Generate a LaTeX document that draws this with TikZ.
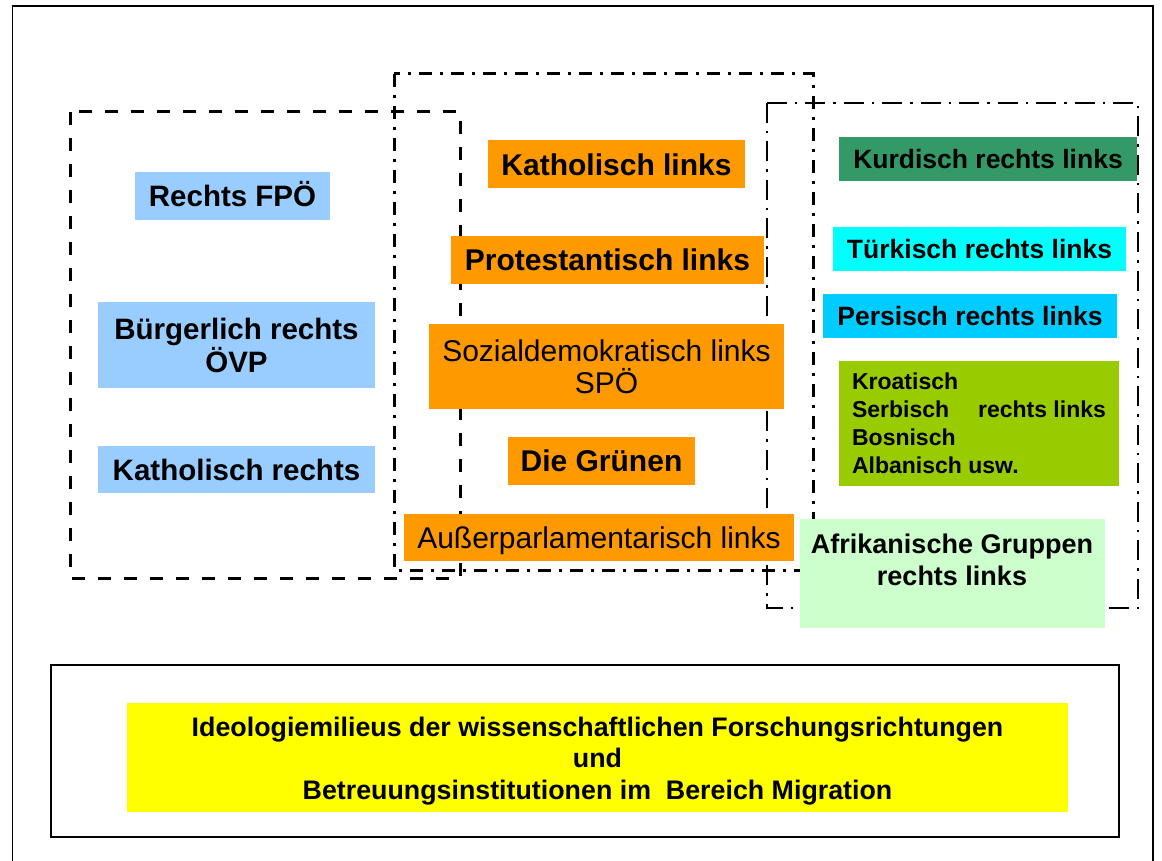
\documentclass[tikz,border=0pt]{standalone}
\usepackage{fontspec}
\setmainfont{Liberation Sans}
\newcommand{\fsz}[2]{\fontsize{#1}{#2}\selectfont}
\definecolor{lblue}{HTML}{99CCFF}
\definecolor{orng}{HTML}{FF9900}
\definecolor{dgreen}{HTML}{339966}
\definecolor{cyanbox}{HTML}{00FFFF}
\definecolor{skybox}{HTML}{00CCFF}
\definecolor{ygreen}{HTML}{99CC00}
\definecolor{lgreen}{HTML}{CCFFCC}
\definecolor{yelbox}{HTML}{FFFF00}
\begin{document}
\begin{tikzpicture}[x=1pt,y=-1pt,
  box/.style={rectangle, inner sep=0pt, text=black, align=center},
  capline/.style={text height=#1, text depth=0pt},
  frameline/.style={draw=black, line width=1.2pt},
  dashbox/.style={draw=black, line width=3pt, dash pattern=on 13pt off 13pt},
  dotbox/.style={draw=black, line width=3pt, dash pattern=on 13pt off 8pt on 3pt off 8pt},
  dotboxthin/.style={draw=black, line width=2.2pt, dash pattern=on 20pt off 8pt on 2.5pt off 8pt}
]
\useasboundingbox (0,0) rectangle (1162,861);
\fill[white] (0,0) rectangle (1162,861);

% outer frame
\draw[frameline] (12.5,861) -- (12.5,6) -- (1153,6) -- (1153,861);

% group frames
\draw[dashbox] (70,112) rectangle (460,578);
\draw[dotbox] (394,74) rectangle (813,570);
\draw[dotboxthin] (767,103) rectangle (1138,608);

% left group
\node[box, fill=lblue, minimum width=195pt, minimum height=48pt, capline=21pt, font={\fsz{29.5}{34}\bfseries}] (fpo) at (232.5,196) {Rechts FPÖ};
\node[box, fill=lblue, minimum width=277pt, minimum height=86pt, font={\fsz{29.5}{33}\bfseries}] (ovp) at (236.5,345) {Bürgerlich rechts\\ÖVP};
\node[box, fill=lblue, minimum width=277pt, minimum height=47pt, capline=21pt, font={\fsz{29.5}{34}\bfseries}] (katr) at (236.5,469.5) {Katholisch rechts};

% middle group
\node[box, fill=orng, minimum width=257pt, minimum height=48pt, capline=21.5pt, font={\fsz{30}{34}\bfseries}] (katl) at (616.5,164.5) {Katholisch links};
\node[box, fill=orng, minimum width=313pt, minimum height=48pt, capline=21.5pt, font={\fsz{30}{34}\bfseries}] (prot) at (607.5,260) {Protestantisch links};
\node[box, fill=orng, minimum width=355pt, minimum height=85pt, font={\fsz{30}{32}}] (spo) at (606.5,366.5) {Sozialdemokratisch links\\SPÖ};
\node[box, fill=orng, minimum width=187pt, minimum height=48pt, capline=21.5pt, font={\fsz{30}{34}\bfseries}] (gruen) at (601.5,461) {Die Grünen};
\node[box, fill=orng, minimum width=390pt, minimum height=47pt, capline=21.5pt, font={\fsz{30}{34}}] (ausser) at (599,537.5) {Außerparlamentarisch links};

% right group
\node[box, fill=dgreen, minimum width=298pt, minimum height=44pt, capline=19pt, font={\fsz{26.5}{30}\bfseries}] (kurd) at (988,159) {Kurdisch rechts links};
\node[box, fill=cyanbox, minimum width=293pt, minimum height=44pt, capline=19pt, font={\fsz{26.5}{30}\bfseries}] (turk) at (979.5,249) {Türkisch rechts links};
\node[box, fill=skybox, minimum width=294pt, minimum height=44pt, capline=19pt, font={\fsz{26.5}{30}\bfseries}] (pers) at (970,316) {Persisch rechts links};
\node[box, fill=ygreen, minimum width=280pt, minimum height=125pt, align=left, font={\fsz{23}{28}\bfseries}] (kroat) at (979,423) {Kroatisch\\\makebox[126pt][l]{Serbisch}rechts links\\Bosnisch\\Albanisch usw.};
\node[box, fill=lgreen, minimum width=305pt, minimum height=109pt] (afrbox) at (952.5,573.5) {};
\node[box, font={\fsz{27}{32}\bfseries}] (afr) at (952,560) {Afrikanische Gruppen\\rechts links};

% bottom caption
\draw[frameline] (51,665) rectangle (1119,837);
\node[box, fill=yelbox, minimum width=941pt, minimum height=109pt] (ideo) at (597.5,757.5) {};
\node[box, font={\fsz{26.8}{31.5}\bfseries}] (ideotext) at (597.5,761) {Ideologiemilieus der wissenschaftlichen Forschungsrichtungen\\und\\Betreuungsinstitutionen im~ Bereich Migration};
\end{tikzpicture}
\end{document}
